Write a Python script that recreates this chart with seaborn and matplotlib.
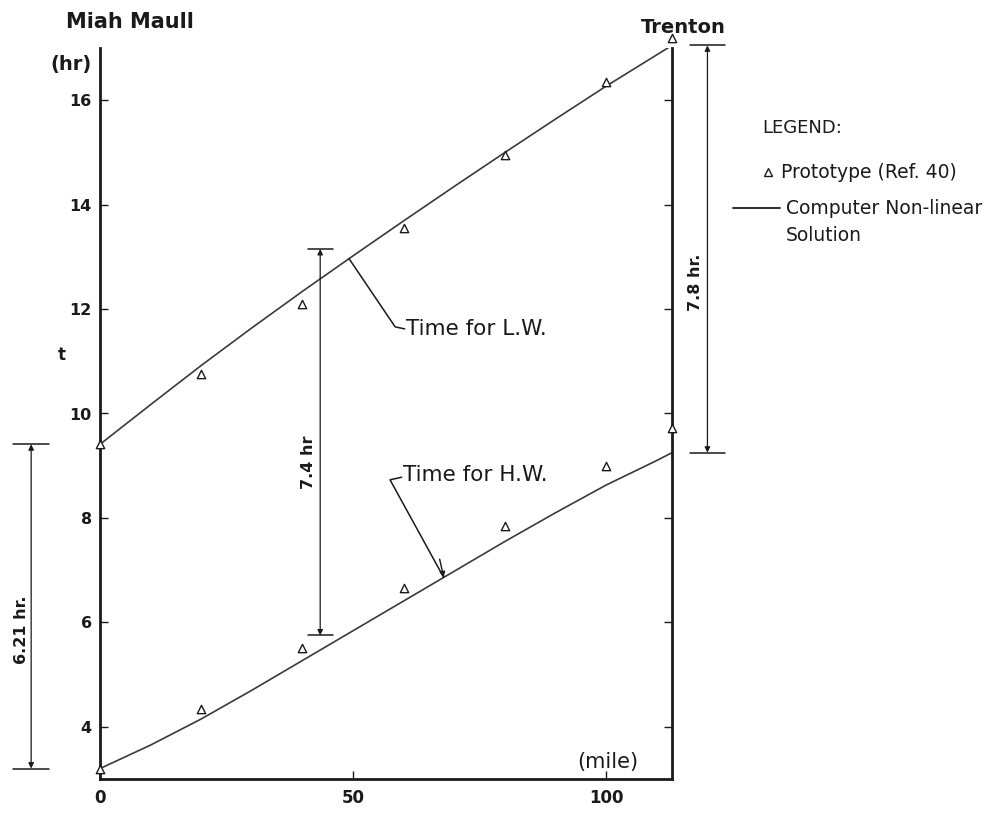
import numpy as np
import pandas as pd
import matplotlib
matplotlib.use("Agg")
import matplotlib.pyplot as plt
import seaborn as sns

# River mile measured from Miah Maull (0) up to Trenton
model_miles = [0, 10, 20, 30, 40, 50, 60, 70, 80, 90, 100, 110, 113]
# Computer non-linear solution: time of low water and high water (hr)
lw_model = [9.41, 10.17, 10.92, 11.64, 12.34, 13.02, 13.69, 14.35, 15.00, 15.64, 16.27, 16.87, 17.05]
hw_model = [3.20, 3.65, 4.15, 4.70, 5.27, 5.84, 6.41, 6.98, 7.55, 8.10, 8.63, 9.10, 9.25]

# Prototype observations (Ref. 40)
proto_miles = [0, 20, 40, 60, 80, 100, 113]
lw_proto = [9.41, 10.75, 12.10, 13.55, 14.95, 16.35, 17.20]
hw_proto = [3.20, 4.35, 5.50, 6.65, 7.85, 9.00, 9.72]

y_ticks = [4, 6, 8, 10, 12, 14, 16]
x_ticks = [0, 50, 100]

# Travel-time brackets: (mile, start hr, duration hr, label)
bracket_hw_mm = (-13.6, 3.20, 6.21, "6.21 hr.")
bracket_mid = (43.5, 5.75, 7.4, "7.4 hr")
bracket_tr = (120.0, 9.25, 7.8, "7.8 hr.")

sns.set_theme(style="white")
plt.rcParams["font.family"] = ["DejaVu Sans"]

fig = plt.figure(figsize=(9.96, 8.13), dpi=100)
ax = fig.add_axes([100 / 996, 34 / 813, 572 / 996, 731 / 813])

model = pd.DataFrame({"mile": model_miles * 2,
                      "t": lw_model + hw_model,
                      "event": ["L.W."] * len(model_miles) + ["H.W."] * len(model_miles)})
proto = pd.DataFrame({"mile": proto_miles * 2,
                      "t": lw_proto + hw_proto,
                      "event": ["L.W."] * len(proto_miles) + ["H.W."] * len(proto_miles)})

ink = "#1a1a1a"
sns.lineplot(data=model, x="mile", y="t", units="event", estimator=None,
             color="#3a3a3a", lw=1.2, ax=ax, legend=False)
sns.scatterplot(data=proto, x="mile", y="t", marker="^", s=36,
                facecolor="white", edgecolor=ink, linewidth=1.0,
                ax=ax, legend=False, zorder=5)
for c in ax.collections:
    c.set_clip_on(False)

ax.set_xlim(0, 113)
ax.set_ylim(3, 17)
ax.set_xticks(x_ticks)
ax.set_yticks(y_ticks)
ax.set_xlabel("")
ax.set_ylabel("")

for side in ["left", "bottom", "right"]:
    ax.spines[side].set_visible(True)
    ax.spines[side].set_color(ink)
    ax.spines[side].set_linewidth(2.0)
ax.spines["top"].set_visible(False)

ax.tick_params(axis="both", which="both", direction="in", length=6, width=1.0,
               color=ink, labelcolor=ink)
ax.tick_params(axis="y", pad=6, labelsize=11.5, right=True, left=True)
ax.tick_params(axis="x", pad=7, labelsize=12, bottom=True)
for lab in ax.get_xticklabels() + ax.get_yticklabels():
    lab.set_fontweight("bold")

# Station names and axis units
ax.text(5.9, 17.5, "Miah Maull", ha="center", va="center", fontsize=15,
        fontweight="bold", color=ink, clip_on=False)
ax.text(115.2, 17.4, "Trenton", ha="center", va="center", fontsize=14,
        fontweight="bold", color=ink, clip_on=False)
ax.text(-5.8, 16.68, "(hr)", ha="center", va="center", fontsize=14,
        fontweight="bold", color=ink, clip_on=False)
ax.text(-7.5, 11.12, "t", ha="center", va="center", fontsize=12,
        fontweight="bold", color=ink, clip_on=False)
ax.text(100.4, 3.33, "(mile)", ha="center", va="center", fontsize=15,
        color=ink, clip_on=False)

# Leaders pointing at the two curves
lw_pt = 49.2
hw_pt = 67.9
lw_y = np.interp(lw_pt, model_miles, lw_model)
hw_y = np.interp(hw_pt, model_miles, hw_model)
ax.plot([lw_pt, 58.3, 60.2], [lw_y, 11.66, 11.62], color=ink, lw=1.1, clip_on=False)
ax.text(60.5, 11.62, "Time for L.W.", ha="left", va="center", fontsize=15.5, color=ink)
ax.plot([hw_pt, 57.3, 59.6], [hw_y, 8.73, 8.78], color=ink, lw=1.1, clip_on=False)
ax.annotate("", xy=(hw_pt, hw_y), xytext=(hw_pt - 0.8, hw_y + 0.35),
            arrowprops=dict(arrowstyle="-|>", color=ink, lw=1.0, mutation_scale=8,
                            shrinkA=0, shrinkB=0))
ax.text(59.9, 8.82, "Time for H.W.", ha="left", va="center", fontsize=15.5, color=ink)


def bracket(x, start, dur, label, cap_half, label_dx, label_y):
    top = start + dur
    ax.annotate("", xy=(x, top), xytext=(x, start),
                arrowprops=dict(arrowstyle="<|-|>", color=ink, lw=0.9,
                                mutation_scale=8, shrinkA=0, shrinkB=0),
                annotation_clip=False)
    for yy in (start, top):
        ax.plot([x - cap_half, x + cap_half], [yy, yy], color=ink, lw=1.1,
                clip_on=False)
    ax.text(x + label_dx, label_y, label, rotation=90, ha="center", va="center",
            fontsize=11.5, fontweight="bold", color=ink, clip_on=False)


bracket(*bracket_hw_mm, cap_half=3.6, label_dx=-2.0, label_y=5.85)
bracket(*bracket_mid, cap_half=2.5, label_dx=-2.3, label_y=9.07)
bracket(*bracket_tr, cap_half=3.4, label_dx=-2.4, label_y=12.52)

# Legend block
fig.text(762 / 996, 1 - 128 / 813, "LEGEND:", ha="left", va="center",
         fontsize=13, color=ink)
fig.lines.append(plt.Line2D([768 / 996], [1 - 172 / 813], marker="^", markersize=6,
                            markerfacecolor="white", markeredgecolor=ink,
                            markeredgewidth=1.0, linestyle="none",
                            transform=fig.transFigure))
fig.text(781 / 996, 1 - 172 / 813, "Prototype (Ref. 40)", ha="left", va="center",
         fontsize=13.5, color=ink)
fig.lines.append(plt.Line2D([733 / 996, 780 / 996], [1 - 208 / 813, 1 - 208 / 813],
                            color=ink, lw=1.3, transform=fig.transFigure))
fig.text(786 / 996, 1 - 208 / 813, "Computer Non-linear", ha="left", va="center",
         fontsize=13.5, color=ink)
fig.text(786 / 996, 1 - 235 / 813, "Solution", ha="left", va="center",
         fontsize=13.5, color=ink)

fig.savefig("out.png", dpi=100, facecolor="white")
